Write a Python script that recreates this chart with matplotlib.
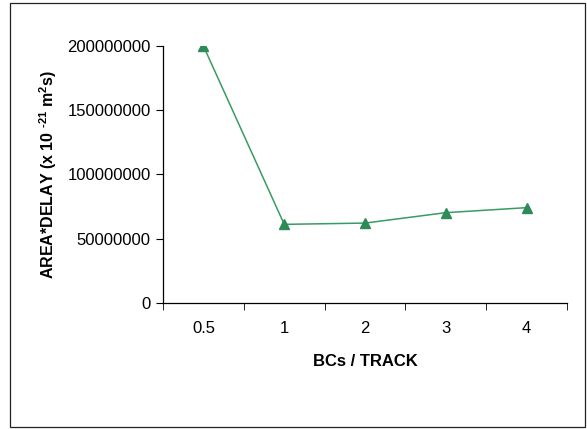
import numpy as np
import matplotlib
matplotlib.use("Agg")
import matplotlib.pyplot as plt
from matplotlib.patches import Rectangle

plt.rcParams["font.family"] = ["Liberation Sans", "DejaVu Sans"]
plt.rcParams["mathtext.fontset"] = "custom"
plt.rcParams["mathtext.rm"] = "Liberation Sans"
plt.rcParams["mathtext.bf"] = "Liberation Sans:bold"

# data
categories = ["0.5", "1", "2", "3", "4"]
area_delay = [200000000, 61200000, 62200000, 70300000, 74200000]
y_ticks = [0, 50000000, 100000000, 150000000, 200000000]

fig = plt.figure(figsize=(5.87, 4.29), dpi=100)
ax = fig.add_axes([0.2777, 0.2937, 0.6884, 0.5991])

x = np.arange(len(categories))
ax.plot(x, area_delay, color="#3a9a63", linewidth=1.1, marker="^",
        markersize=7.5, markerfacecolor="#2e8b57", markeredgecolor="#2e8b57")

ax.set_xlim(-0.5, len(categories) - 0.5)
ax.set_ylim(0, 200000000)
ax.set_yticks(y_ticks)
ax.set_yticklabels([str(v) for v in y_ticks], fontsize=12)
ax.set_xticks(x)
ax.set_xticklabels(categories, fontsize=12)
ax.set_xticks(np.arange(-0.5, len(categories)), minor=True)
ax.tick_params(axis="x", which="major", length=0, pad=13)
ax.tick_params(axis="x", which="minor", length=5, direction="out")
ax.tick_params(axis="y", length=5, direction="out", pad=4)

ax.set_xlabel("BCs / TRACK", fontsize=12, fontweight="bold", labelpad=13)
ax.set_ylabel("AREA*DELAY (x 10 $^{\\mathbf{\u2010}\\mathbf{21}}$ m$^{\\mathbf{2}}$s)",
              fontsize=11.5, fontweight="bold", labelpad=6)

ax.spines["top"].set_visible(False)
ax.spines["right"].set_visible(False)
for s in ("left", "bottom"):
    ax.spines[s].set_linewidth(0.9)

# outer frame
fig.patches.append(Rectangle((0.017, 0.004), 0.98, 0.99, transform=fig.transFigure,
                             fill=False, edgecolor="#222222", linewidth=0.9))

fig.savefig("out.png", dpi=100)
